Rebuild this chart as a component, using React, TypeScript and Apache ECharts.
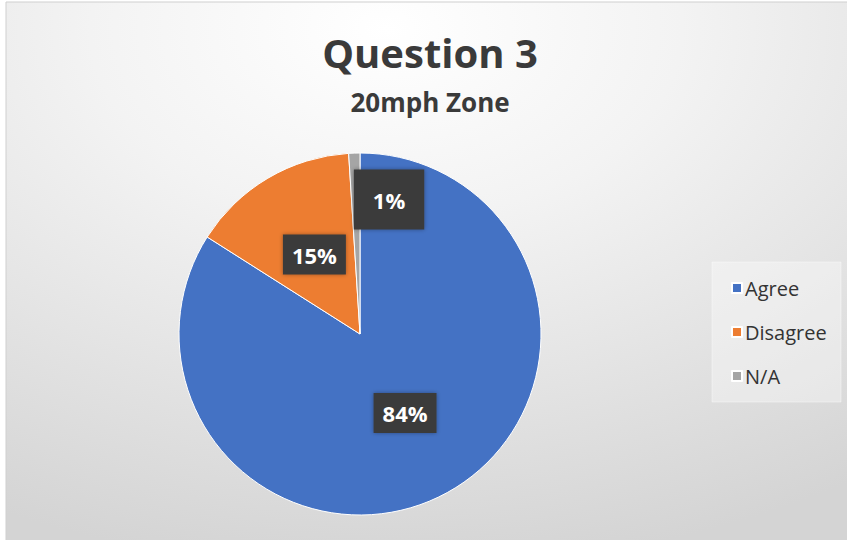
import React, { useEffect, useRef } from "react";
import * as echarts from "echarts";

const categories = ["Agree", "Disagree", "N/A"];
const values = [84, 15, 1];
const colors = ["#4472C4", "#ED7D31", "#A5A5A5"];
const titleText = "Question 3";
const subtitleText = "20mph Zone";

export default function App() {
  const ref = useRef<HTMLDivElement>(null);
  useEffect(() => {
    const chart = echarts.init(ref.current!, null, { renderer: "svg" });
    const font = "'Open Sans', 'Noto Sans', sans-serif";
    chart.setOption({
      animation: false,
      backgroundColor: "#ffffff",
      graphic: [
        {
          type: "rect",
          z: -10,
          shape: { x: 6, y: 2, width: 845, height: 542 },
          style: {
            fill: {
              type: "radial",
              x: 0.45,
              y: 0.05,
              r: 1.0,
              colorStops: [
                { offset: 0, color: "#ffffff" },
                { offset: 0.35, color: "#f3f3f3" },
                { offset: 1, color: "#d4d4d4" },
              ],
            },
            stroke: "#cfcfcf",
            lineWidth: 1,
          },
        },
        {
          type: "rect",
          z: -5,
          shape: { x: 712, y: 262, width: 129, height: 140 },
          style: { fill: "rgba(255,255,255,0.35)", stroke: "rgba(255,255,255,0.4)" },
        },
      ],
      title: [
        {
          text: titleText,
          left: 425,
          top: 27,
          textAlign: "center",
          textStyle: { fontFamily: font, fontSize: 40, fontWeight: "bold", color: "#3a3a3a" },
        },
        {
          text: subtitleText,
          left: 425,
          top: 84,
          textAlign: "center",
          textStyle: { fontFamily: font, fontSize: 26, fontWeight: "bold", color: "#3a3a3a" },
        },
      ],
      legend: {
        orient: "vertical",
        left: 726,
        top: 272,
        itemWidth: 10,
        itemHeight: 10,
        itemGap: 22,
        icon: "rect",
        data: categories,
        textStyle: { fontFamily: font, fontSize: 20, color: "#333333", lineHeight: 22, padding: [0, 0, 0, -2] },
      },
      series: [
        {
          type: "pie",
          center: [360, 334],
          radius: 181,
          startAngle: 90,
          clockwise: true,
          avoidLabelOverlap: false,
          itemStyle: { borderColor: "#ffffff", borderWidth: 1 },
          label: {
            show: true,
            position: "inside",
            formatter: "{d}%",
            fontFamily: font,
            fontSize: 22,
            fontWeight: "bold",
            color: "#ffffff",
            backgroundColor: "#3b3b3b",
            padding: [9, 9, 9, 9],
            shadowColor: "rgba(0,0,0,0.35)",
            shadowBlur: 4,
          },
          labelLine: { show: false },
          labelLayout: (p: any) => (p.dataIndex === 2 ? { dx: 32, dy: -41 } : p.dataIndex === 0 ? { dy: -3 } : { dx: 2, dy: 1 }),
          data: categories.map((c, i) => ({
            name: c,
            value: values[i],
            itemStyle: { color: colors[i] },
            label: i === 2 ? { padding: [19, 19, 19, 19] } : undefined,
          })),
        },
      ],
    });
    return () => chart.dispose();
  }, []);
  return (
    <div
      ref={ref}
      style={{ position: "fixed", left: 0, top: 0, width: 847, height: 540 }}
    />
  );
}
